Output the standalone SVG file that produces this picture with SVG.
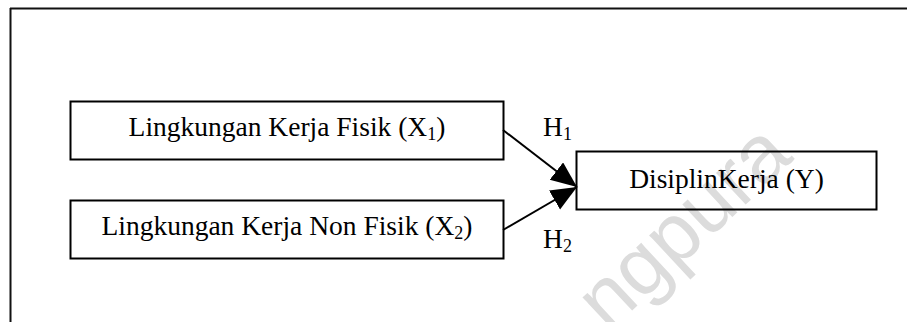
<svg xmlns="http://www.w3.org/2000/svg" width="907" height="322" viewBox="0 0 907 322">
  <style>
    .frame { stroke: #111; stroke-width: 2; fill: none; }
    .box { fill: none; stroke: #000; stroke-width: 2; }
    .lbl { font-family: "Liberation Serif", "Times New Roman", serif; font-size: 27.5px; fill: #000; }
    .sub { font-size: 18px; }
    .conn { stroke: #000; stroke-width: 2; fill: none; }
    .wm { font-family: "Liberation Sans", Arial, sans-serif; font-size: 82px; fill: #dcdcdc; }
  </style>
  <defs>
    <marker id="arrow" markerUnits="userSpaceOnUse" markerWidth="28" markerHeight="24" refX="26" refY="11" orient="auto">
      <path d="M0,0 L26,11 L0,22 z" fill="#000"/>
    </marker>
  </defs>
  <rect x="0" y="0" width="907" height="322" fill="#fff"/>
  <text class="wm" x="608" y="333" transform="rotate(-43 608 333)">ngpura</text>
  <g id="frame">
    <line class="frame" x1="10" y1="8.5" x2="907" y2="8.5"/>
    <line class="frame" x1="10.5" y1="8" x2="10.5" y2="322"/>
  </g>
  <g id="connectors">
    <line class="conn" x1="503" y1="130" x2="577" y2="187" marker-end="url(#arrow)"/>
    <line class="conn" x1="503" y1="230" x2="577" y2="187" marker-end="url(#arrow)"/>
    <text class="lbl" x="543" y="136">H<tspan class="sub" dy="4">1</tspan></text>
    <text class="lbl" x="543" y="248">H<tspan class="sub" dy="4">2</tspan></text>
  </g>
  <g id="node-x1">
    <rect class="box" x="70.5" y="101.5" width="433" height="58"/>
    <text class="lbl" x="287" y="136" text-anchor="middle">Lingkungan Kerja Fisik (X<tspan class="sub" dy="4">1</tspan><tspan dy="-4">)</tspan></text>
  </g>
  <g id="node-x2">
    <rect class="box" x="70.5" y="200.5" width="433" height="58"/>
    <text class="lbl" x="287" y="235" text-anchor="middle">Lingkungan Kerja Non Fisik (X<tspan class="sub" dy="4">2</tspan><tspan dy="-4">)</tspan></text>
  </g>
  <g id="node-y">
    <rect class="box" x="576.5" y="151.5" width="300" height="58"/>
    <text class="lbl" x="726.5" y="188" text-anchor="middle">DisiplinKerja (Y)</text>
  </g>
</svg>
